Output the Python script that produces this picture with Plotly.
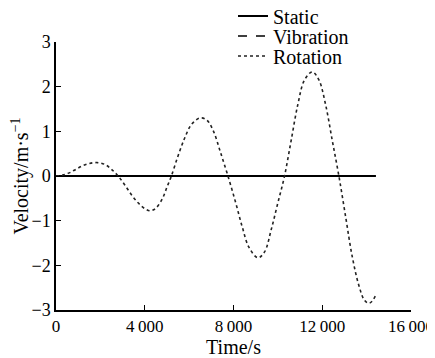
import plotly.graph_objects as go

# Data
rot_time = [0, 300, 600, 900, 1200, 1500, 1850, 2200, 2500, 2800, 3100, 3400, 3700, 4000,
            4250, 4500, 4800, 5000, 5200, 5500, 5800, 6100, 6500, 6800, 7100, 7400, 7750,
            8100, 8400, 8700, 9100, 9400, 9700, 10000, 10300, 10600, 10900, 11200, 11550,
            11850, 12150, 12450, 12750, 13050, 13350, 13650, 13900, 14100, 14250, 14400]
rot_vel = [0, 0.02, 0.07, 0.15, 0.23, 0.28, 0.30, 0.26, 0.15, 0.0, -0.2, -0.42, -0.6, -0.73,
           -0.78, -0.72, -0.5, -0.25, 0.0, 0.45, 0.85, 1.15, 1.30, 1.25, 1.0, 0.55, 0.0,
           -0.6, -1.15, -1.6, -1.83, -1.7, -1.2, -0.6, 0.0, 0.8, 1.6, 2.15, 2.33,
           2.15, 1.6, 0.8, 0.0, -0.9, -1.8, -2.45, -2.78, -2.85, -2.8, -2.68]
static_time = [0, 14420]
static_vel = [0, 0]
vib_time = [0, 14420]
vib_vel = [0, 0]

x_tickvals = [0, 4000, 8000, 12000, 16000]
x_ticktext = ["0", "4\u2009000", "8\u2009000", "12\u2009000", "16\u2009000"]
y_tickvals = [-3, -2, -1, 0, 1, 2, 3]
y_ticktext = ["\u22123", "\u22122", "\u22121", "0", "1", "2", "3"]

FONT = "Liberation Serif, Times New Roman, Times, serif"
TICK = 17
YTICK = 18
TITLE = 20

# The page body has an 8px default margin, so the figure is drawn from (8, 8)
OFF = 8
W, H = 435 - OFF, 358 - OFF

fig = go.Figure()
fig.add_trace(go.Scatter(x=static_time, y=static_vel, mode="lines", name="Static", legend="legend",
                         line=dict(color="black", width=2, dash="solid")))
fig.add_trace(go.Scatter(x=vib_time, y=vib_vel, mode="lines", name="Vibration", legend="legend2",
                         line=dict(color="black", width=1.6, dash="dash")))
fig.add_trace(go.Scatter(x=rot_time, y=rot_vel, mode="lines", name="Rotation", legend="legend3",
                         line=dict(color="#222222", width=1.6, dash="dot", shape="spline")))

def leg(ypx):
    return dict(x=(233 - OFF) / W, y=1 - (ypx - OFF) / H, xref="container", yref="container",
                xanchor="left", yanchor="middle", bgcolor="rgba(0,0,0,0)",
                font=dict(family=FONT, size=TITLE), itemwidth=30)

fig.update_layout(
    width=W, height=H,
    margin=dict(l=56 - OFF, r=24, t=42 - OFF, b=48, autoexpand=False),
    paper_bgcolor="white", plot_bgcolor="white",
    font=dict(family=FONT, size=TICK, color="black"),
    showlegend=True,
    legend=leg(16), legend2=leg(36), legend3=leg(56),
    xaxis=dict(range=[0, 16000], tickvals=x_tickvals, ticktext=x_ticktext, automargin=True,
               ticklabeloverflow="allow",
               showgrid=False, zeroline=False, showline=True, linecolor="black", linewidth=1.5,
               ticks="inside", ticklen=5, tickwidth=1.2, tickcolor="black",
               title=dict(text="Time/s", font=dict(family=FONT, size=TITLE), standoff=4),
               tickfont=dict(family=FONT, size=TICK)),
    yaxis=dict(range=[-3, 3], tickvals=y_tickvals, ticktext=y_ticktext, automargin=True,
               showgrid=False, zeroline=False, showline=True, linecolor="black", linewidth=1.5,
               ticks="inside", ticklen=5, tickwidth=1.2, tickcolor="black",
               title=dict(text="Velocity/m\u00b7s<sup>\u22121</sup>", font=dict(family=FONT, size=TITLE), standoff=4),
               tickfont=dict(family=FONT, size=YTICK)),
)

fig.write_html("out.html")
